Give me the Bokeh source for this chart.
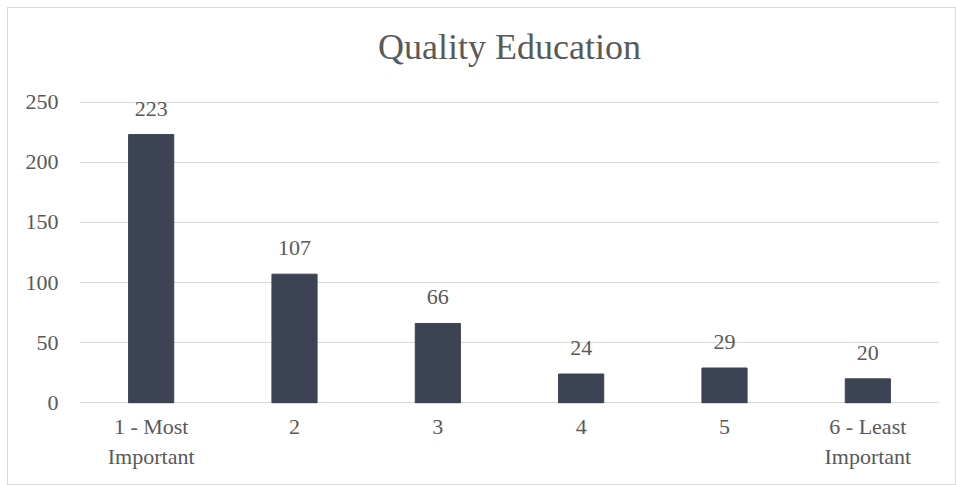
from bokeh.plotting import figure
from bokeh.models import ColumnDataSource, LabelSet, Range1d, Title
from bokeh.embed import file_html
from bokeh.resources import INLINE
from bokeh.core.properties import value

categories = ["1 - Most\nImportant", "2", "3", "4", "5", "6 - Least\nImportant"]
counts = [223, 107, 66, 24, 29, 20]
y_ticks = [0, 50, 100, 150, 200, 250]

FONT = "Liberation Serif"
TXT = "#595959"

src = ColumnDataSource(dict(cat=categories, n=counts, lbl=[str(c) for c in counts]))

p = figure(x_range=categories, y_range=Range1d(-0.5, 250.5), width=949, height=478,
           output_backend="svg", toolbar_location=None,
           title="Quality Education")
p.min_border_left = 71
p.min_border_right = 18
p.min_border_top = 93
p.min_border_bottom = 83

p.vbar(x="cat", top="n", width=0.315, source=src, color="#3B4354")

labels = LabelSet(x="cat", y="n", text="lbl", source=src, text_align="center",
                  text_baseline="alphabetic", y_offset=19,
                  text_font=value(FONT), text_font_size="22px", text_color=TXT)
p.add_layout(labels)

# spacer between plot area and title
spacer = Title(text=" ", text_font_size="1px", standoff=27, text_color="white")
p.add_layout(spacer, "above")

p.title.align = "center"
p.title.text_font = FONT
p.title.text_font_size = "36px"
p.title.text_font_style = "normal"
p.title.text_color = TXT
p.title.standoff = 10

p.yaxis.ticker = y_ticks
p.outline_line_color = None
p.xgrid.grid_line_color = None
p.ygrid.grid_line_color = "#d9d9d9"
p.ygrid.grid_line_width = 1
for ax in (p.xaxis, p.yaxis):
    ax.axis_line_color = None
    ax.major_tick_line_color = None
    ax.minor_tick_line_color = None
    ax.major_label_text_font = FONT
    ax.major_label_text_font_size = "22px"
    ax.major_label_text_color = TXT
p.xaxis.major_label_standoff = 4
p.yaxis.major_label_standoff = 15
p.x_range.range_padding = 0
p.styles = {"border": "1px solid #d9d9d9", "margin-left": "7px", "margin-top": "7px"}

open("out.html", "w").write(file_html(p, INLINE))
